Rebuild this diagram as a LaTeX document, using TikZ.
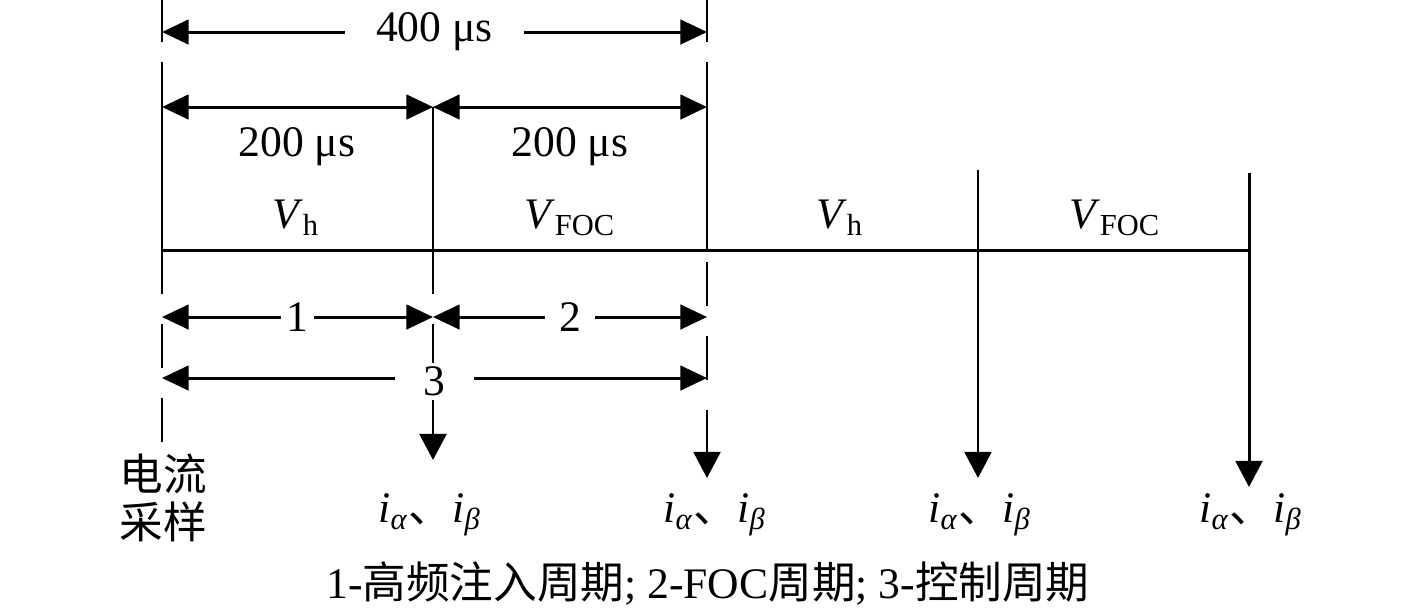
\documentclass[tikz,border=0pt]{standalone}
\usepackage{fontspec}
\setmainfont{Liberation Serif}
\newfontfamily\cjk{Noto Sans CJK SC}
\usetikzlibrary{arrows.meta}
\newcommand{\volth}{\textit{V}\textsubscript{h}}
\newcommand{\voltfoc}{\textit{V}\textsubscript{FOC}}
\newcommand{\ialbe}{\textit{i}\textsubscript{\textit{α}}{\cjk 、}\textit{i}\textsubscript{\textit{β}}}

\begin{document}
\begin{tikzpicture}[x=0.01cm, y=-0.01cm, font=\fontsize{12.4}{13.5}\selectfont,
  rule/.style={line width=0.85pt},
  dim/.style={{Triangle[length=7.6pt,width=7pt]}-{Triangle[length=7.6pt,width=7pt]}, rule},
  sample/.style={-{Triangle[length=7.4pt,width=7.6pt]}, rule},
  broken/.style={rule, dash pattern=on 0.44cm off 0.3cm},
  cut/.style={fill=white, inner ysep=1pt}]
  \useasboundingbox (0,0) rectangle (1417,614);
  % Period boundaries on the time axis
  \coordinate (t0) at (162,250);
  \coordinate (t1) at (433,250);
  \coordinate (t2) at (707,250);
  \coordinate (t3) at (978,250);
  \coordinate (t4) at (1249,250);
  % Time axis
  \draw[rule] (t0) -- (t4);
  % Boundaries above the axis
  \draw[rule] (162,0) -- (162,42) (162,62) -- (t0);
  \draw[rule] (707,0) -- (707,42) (707,62) -- (t2);
  \draw[rule] (433,107) -- (t1);
  % Sampling instants, later periods
  \draw[sample] (978,170) -- (978,478);
  \draw[sample] (1249,173) -- (1249,487);
  % Broken lines below the axis
  \draw[broken] (t0) -- (162,442);
  \draw[broken, sample] (t1) -- (433,460);
  \draw[broken, sample] (707,262) -- (707,478);
  % Durations
  \draw[dim] (162,32) -- (707,32)
    node[midway, cut, inner xsep=9pt] (ctl) {400 μs};
  \draw[dim] (162,107) -- (433,107);
  \draw[dim] (433,107) -- (707,107);
  \node (hf) at (297,147) {200 μs};
  \node (foc) at (570,147) {200 μs};
  % Voltage in each half period
  \node (v1) at (296,218) {\volth};
  \node (v2) at (570,218) {\voltfoc};
  \node (v3) at (840,218) {\volth};
  \node (v4) at (1115,218) {\voltfoc};
  % Numbered periods
  \draw[dim] (162,317) -- (433,317)
    node[midway, cut, inner xsep=1.5pt] (p1) {1};
  \draw[dim] (433,317) -- (707,317)
    node[midway, cut, inner xsep=4pt] (p2) {2};
  \draw[dim] (162,378) -- (707,378)
    node[midway, cut, inner xsep=8pt, yshift=-1pt] (p3) {3};
  % Sampled currents
  \node[align=center] (cs) at (163,498) {\cjk 电流\\\cjk 采样};
  \node (s1) at (430,515) {\ialbe};
  \node (s2) at (715,515) {\ialbe};
  \node (s3) at (980,515) {\ialbe};
  \node (s4) at (1251,515) {\ialbe};
  % Legend
  \node (cap) at (708,583) {1-{\cjk 高频注入周期}; 2-FOC{\cjk 周期}; 3-{\cjk 控制周期}};
\end{tikzpicture}
\end{document}
